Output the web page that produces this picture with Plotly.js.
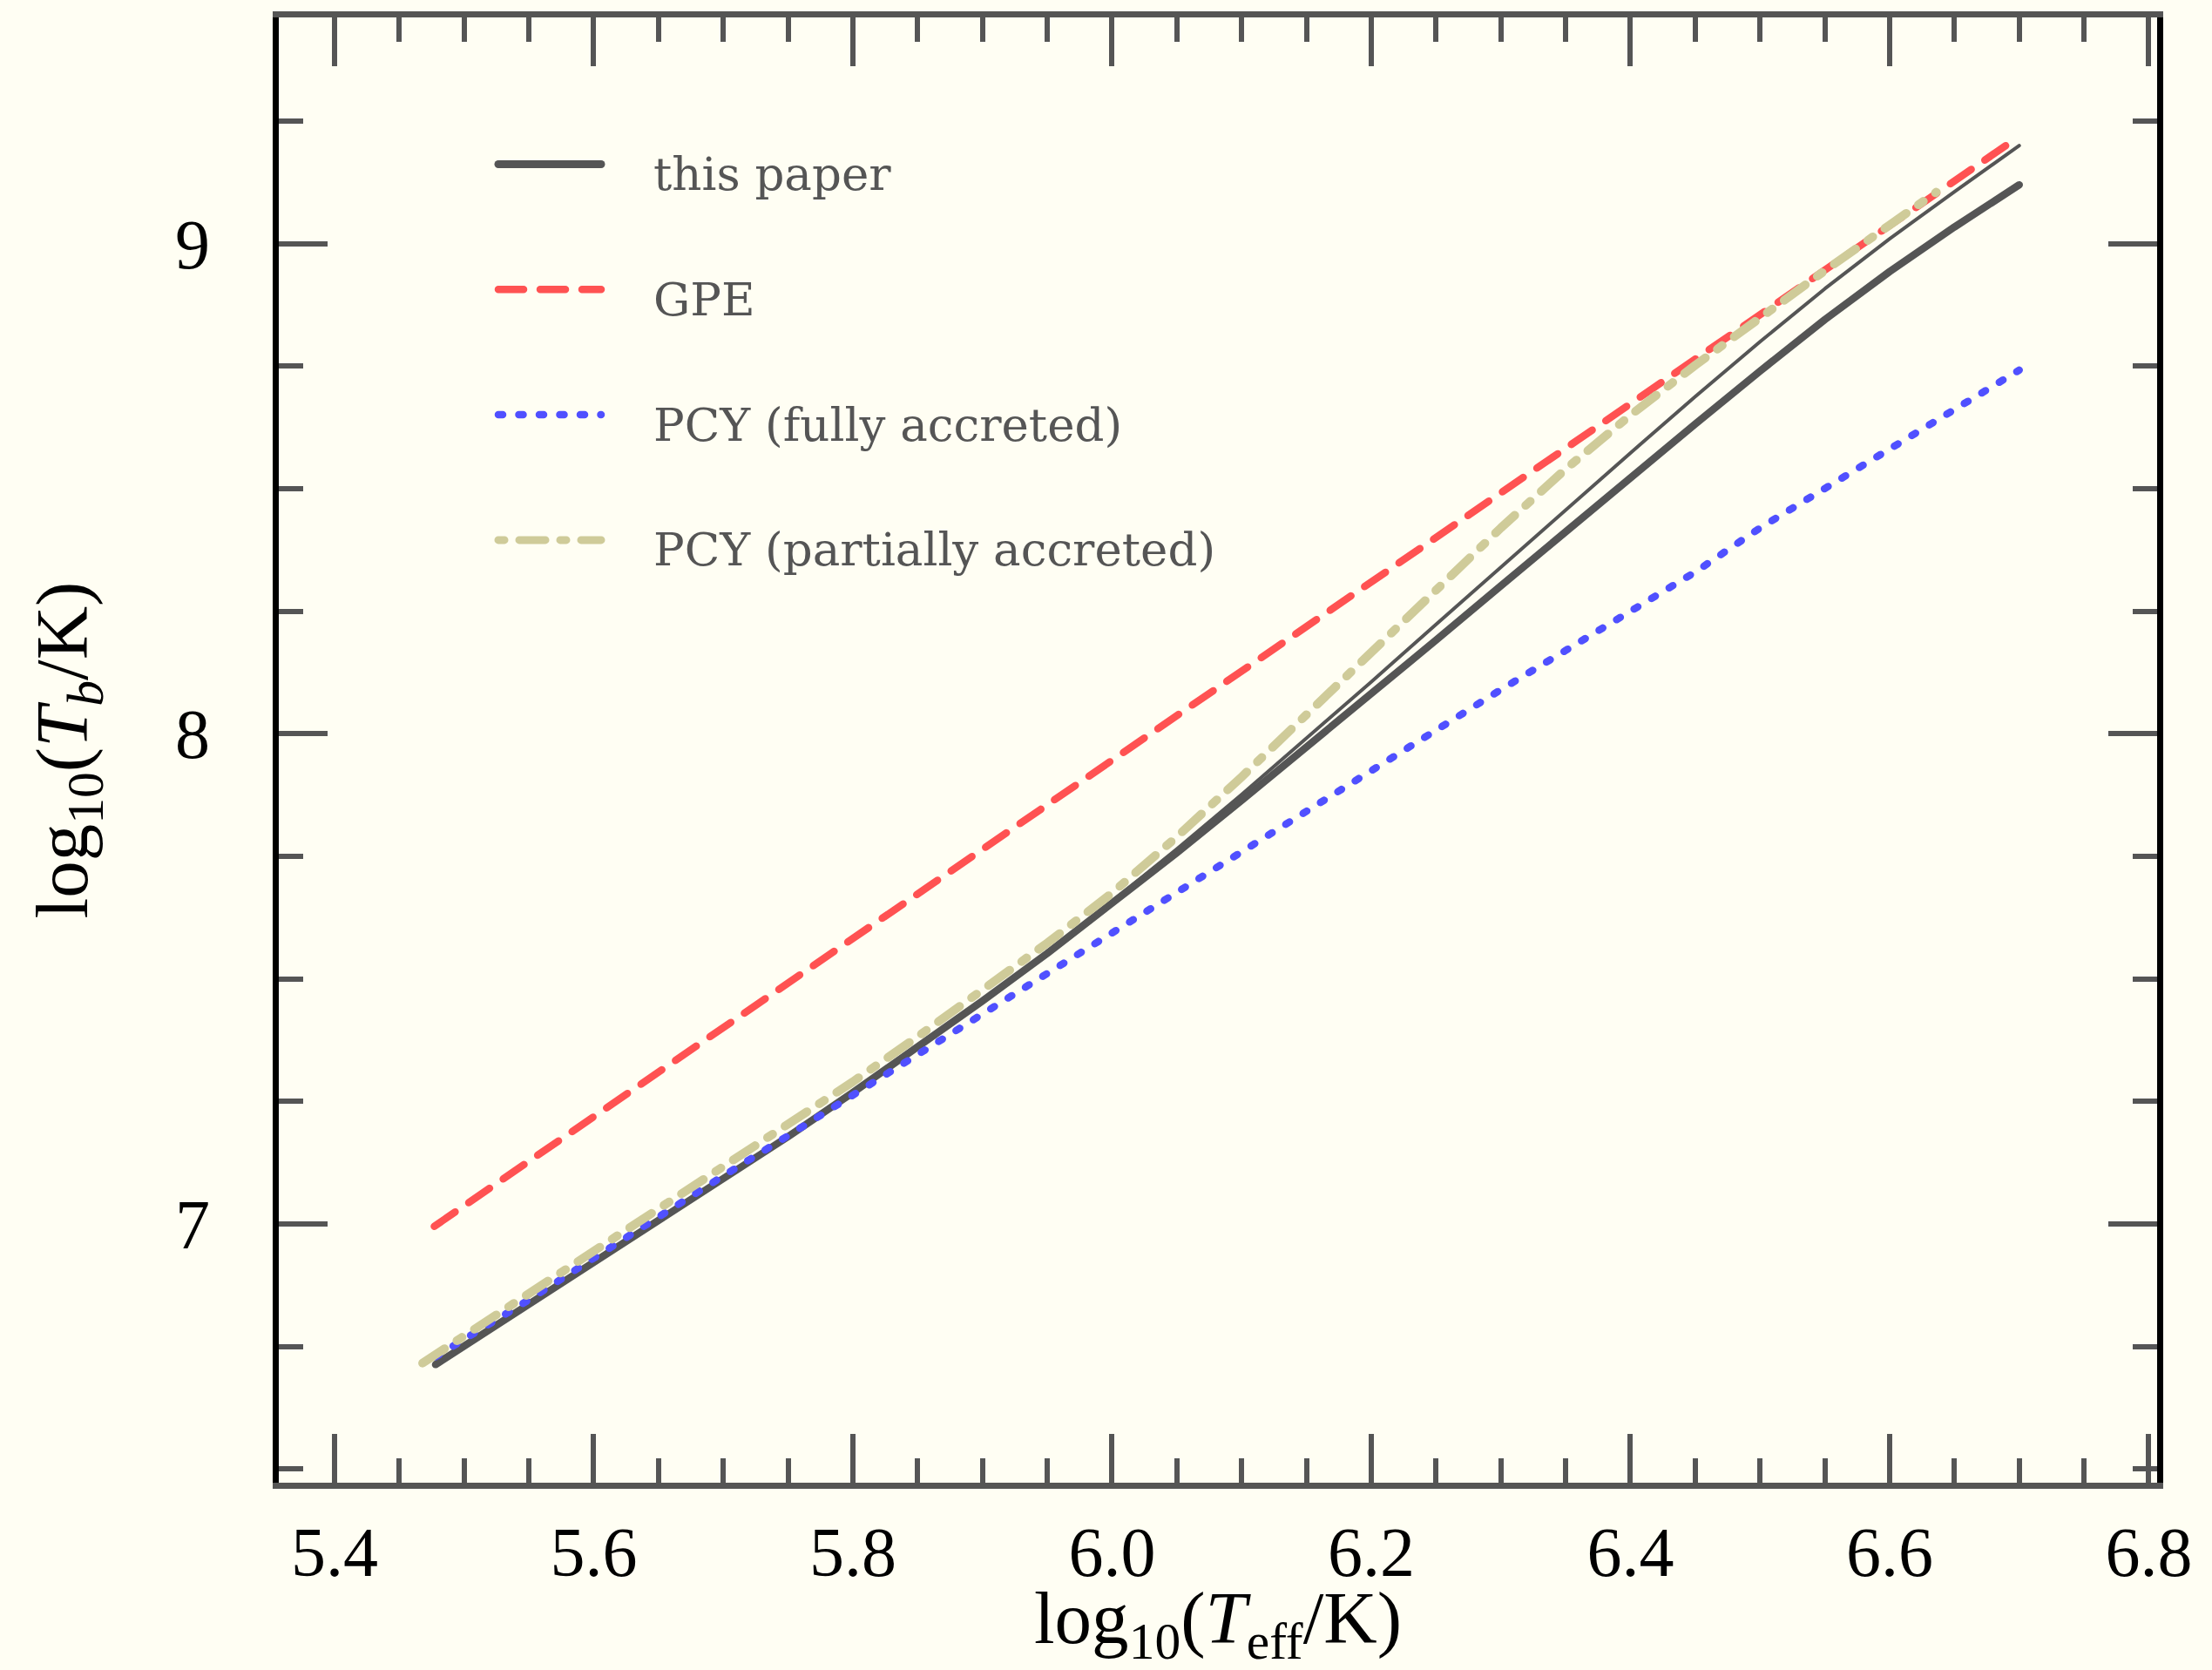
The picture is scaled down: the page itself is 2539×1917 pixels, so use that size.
<!DOCTYPE html>
<html>
<head>
<meta charset="utf-8">
<script src="https://cdn.plot.ly/plotly-3.0.1.min.js"></script>
<style>
  html, body { margin: 0; padding: 0; background: #fffef3; }
  #chart { width: 2539px; height: 1917px; }
  .scatterlayer .js-line { stroke-linecap: round; stroke-linejoin: round; }
  .shapelayer path { stroke-linecap: round; }
</style>
</head>
<body>
<div id="chart"></div>
<script>
// log10(Teff/K) grid shared by the envelope models
const logTeffModel = [5.478, 5.55, 5.60, 5.65, 5.70, 5.75, 5.80, 5.85, 5.90, 5.95, 6.00, 6.05,
  6.10, 6.15, 6.20, 6.25, 6.30, 6.35, 6.40, 6.45, 6.50, 6.55, 6.60, 6.65, 6.70];

// this paper: two envelope compositions (thick and thin curves)
const logTbThisPaper = [6.713, 6.835, 6.920, 7.005, 7.091, 7.178, 7.268, 7.360, 7.455, 7.552, 7.653, 7.757,
  7.864, 7.972, 8.081, 8.191, 8.302, 8.413, 8.523, 8.632, 8.740, 8.845, 8.943, 9.034, 9.120];
const logTbThisPaperAlt = [6.713, 6.835, 6.920, 7.005, 7.091, 7.178, 7.268, 7.360, 7.455, 7.554, 7.658, 7.765,
  7.876, 7.990, 8.106, 8.223, 8.340, 8.457, 8.573, 8.688, 8.800, 8.908, 9.010, 9.106, 9.200];

// GPE relation
const logTeffGPE = [5.477, 5.60, 5.80, 6.00, 6.20, 6.40, 6.60, 6.699];
const logTbGPE = [6.995, 7.219, 7.582, 7.946, 8.309, 8.673, 9.037, 9.217];

// PCY, fully accreted envelope
const logTbPCYFull = [6.729, 6.845, 6.930, 7.015, 7.098, 7.180, 7.263, 7.347, 7.430, 7.513, 7.595, 7.677,
  7.760, 7.842, 7.925, 8.007, 8.090, 8.170, 8.250, 8.330, 8.420, 8.500, 8.580, 8.660, 8.742];

// PCY, partially accreted envelope
const logTeffPCYPartial = [5.468, 5.55, 5.60, 5.65, 5.70, 5.75, 5.80, 5.85, 5.90, 5.95, 6.00, 6.05,
  6.10, 6.15, 6.20, 6.25, 6.30, 6.35, 6.40, 6.45, 6.50, 6.55, 6.60, 6.636];
const logTbPCYPartial = [6.716, 6.857, 6.942, 7.028, 7.115, 7.201, 7.290, 7.382, 7.476, 7.573, 7.675, 7.790,
  7.912, 8.040, 8.168, 8.295, 8.420, 8.540, 8.650, 8.752, 8.850, 8.945, 9.038, 9.105];

const legendLabels = ['this paper', 'GPE', 'PCY (fully accreted)', 'PCY (partially accreted)'];

const DARK = '#555555', RED = '#ff5252', BLUE = '#5050ff', KHAKI = '#cfcb99';
const dashGPE = '29px,19px';
const dotPCY = '5px,18.5px';
const dashDotPCY = '30px,17px,7px,17px';

const traces = [
  { x: logTeffModel, y: logTbThisPaper, mode: 'lines', name: legendLabels[0],
    line: { color: DARK, width: 8.5 } },
  { x: logTeffModel, y: logTbThisPaperAlt, mode: 'lines', name: legendLabels[0] + ' (alt)',
    line: { color: DARK, width: 4 } },
  { x: logTeffGPE, y: logTbGPE, mode: 'lines', name: legendLabels[1],
    line: { color: RED, width: 8.5, dash: dashGPE } },
  { x: logTeffModel, y: logTbPCYFull, mode: 'lines', name: legendLabels[2],
    line: { color: BLUE, width: 8.5, dash: dotPCY } },
  { x: logTeffPCYPartial, y: logTbPCYPartial, mode: 'lines', name: legendLabels[3],
    line: { color: KHAKI, width: 10, dash: dashDotPCY } }
];

// page geometry of the plotting area
const W = 2539, H = 1917;
const M = { l: 320, r: 63, t: 20, b: 215 };
const px = X => (X - M.l) / (W - M.l - M.r);
const py = Y => 1 - (Y - M.t) / (H - M.t - M.b);

// hand-built legend with long line samples
const legendStyles = [
  { color: DARK, width: 9, dash: 'solid' },
  { color: RED, width: 8.5, dash: dashGPE },
  { color: BLUE, width: 8.5, dash: dotPCY },
  { color: KHAKI, width: 9, dash: '7px,17px,30px,17px' }
];
const shapes = [], annotations = [];
legendLabels.forEach((label, i) => {
  const rowY = 188.5 + i * 143.8;
  shapes.push({ type: 'line', xref: 'paper', yref: 'paper',
    x0: px(572), x1: px(690), y0: py(rowY), y1: py(rowY), line: legendStyles[i] });
  annotations.push({ xref: 'paper', yref: 'paper', x: px(748), y: py(rowY + 11),
    xanchor: 'left', yanchor: 'middle', showarrow: false, text: label,
    font: { family: 'DejaVu Serif', size: 53, color: DARK } });
});

const tickFont = { family: 'Liberation Serif', size: 80, color: '#000000' };
const titleFont = { family: 'Liberation Serif', size: 85, color: '#000000' };

const layout = {
  width: W, height: H,
  paper_bgcolor: '#fffef3', plot_bgcolor: '#fffef3',
  margin: M,
  showlegend: false,
  xaxis: {
    range: [5.357, 6.8064], tick0: 5.4, dtick: 0.2, tickformat: '.1f',
    ticks: 'inside', ticklen: 56, tickwidth: 6, tickcolor: DARK,
    showline: true, linecolor: DARK, linewidth: 7, mirror: 'allticks',
    showgrid: false, zeroline: false,
    minor: { tick0: 5.4, dtick: 0.05, ticks: 'inside', ticklen: 28, tickwidth: 6, tickcolor: DARK, showgrid: false },
    tickfont: tickFont, ticklabelstandoff: 4,
    title: { text: 'log<sub>10</sub>(<i>T</i><sub>eff</sub>/K)', font: titleFont, standoff: 32 }
  },
  yaxis: {
    range: [6.4719, 9.4616], tick0: 7, dtick: 1,
    ticks: 'inside', ticklen: 56, tickwidth: 6, tickcolor: DARK,
    showline: true, linecolor: '#000000', linewidth: 7, mirror: 'allticks',
    showgrid: false, zeroline: false,
    minor: { tick0: 7, dtick: 0.25, ticks: 'inside', ticklen: 28, tickwidth: 6, tickcolor: DARK, showgrid: false },
    tickfont: tickFont, ticklabelstandoff: 56,
    title: { text: 'log<sub>10</sub>(<i>T<sub>b</sub></i>/K)', font: titleFont, standoff: 75 }
  },
  shapes: shapes,
  annotations: annotations
};

Plotly.newPlot('chart', traces, layout, { staticPlot: true, displayModeBar: false });
</script>
</body>
</html>
